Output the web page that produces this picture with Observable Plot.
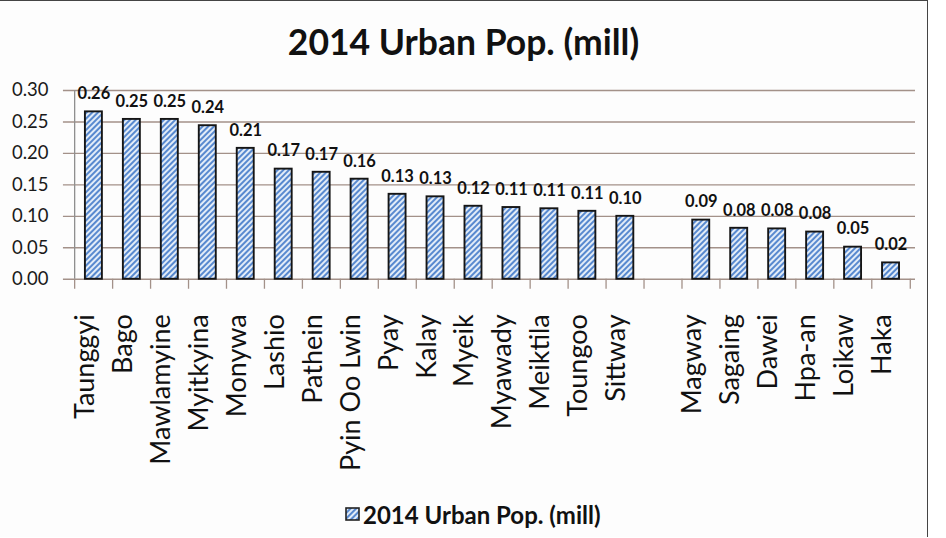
<!DOCTYPE html>
<html><head><meta charset="utf-8">
<script src="https://cdn.jsdelivr.net/npm/d3@7"></script>
<script src="https://cdn.jsdelivr.net/npm/@observablehq/plot@0.6"></script>
<style>
body{margin:0;background:#fff;}
#frame{position:relative;width:927px;height:536px;border-top:1.5px solid #444;border-right:1.5px solid #444;background:#fdfdfd;font-family:Lato,sans-serif;color:#111;overflow:hidden;}
#title{position:absolute;left:0;top:21px;width:927px;height:40px;line-height:40px;text-align:center;font-size:35.5px;font-weight:bold;}
#chart{position:absolute;left:0;top:61px;}
#legend{position:absolute;left:345px;top:500px;height:26px;display:flex;align-items:center;font-size:24px;font-weight:bold;white-space:nowrap;}
#legend svg{margin-right:3px;}
</style></head><body>
<div id="frame"><div id="title"></div><div id="chart"></div><div id="legend"></div></div>
<script>
// ---- data ----
const cities = ["Taunggyi","Bago","Mawlamyine","Myitkyina","Monywa","Lashio","Pathein","Pyin Oo Lwin","Pyay","Kalay","Myeik","Myawady","Meiktila","Toungoo","Sittway","","Magway","Sagaing","Dawei","Hpa-an","Loikaw","Haka"];
const values = [0.266,0.254,0.254,0.244,0.208,0.175,0.170,0.159,0.135,0.131,0.116,0.114,0.112,0.108,0.100,null,0.094,0.081,0.080,0.075,0.051,0.026];
const valueLabels = ["0.26","0.25","0.25","0.24","0.21","0.17","0.17","0.16","0.13","0.13","0.12","0.11","0.11","0.11","0.10","","0.09","0.08","0.08","0.08","0.05","0.02"];
const yTicks = [0,0.05,0.10,0.15,0.20,0.25,0.30];
const titleText = "2014 Urban Pop. (mill)";
const seriesName = "2014 Urban Pop. (mill)";

// ---- layout ----
const W = 928, ML = 68, MR = 12;
const step = (W - ML - MR) / cities.length;
const gridColor = "#a39189";

const rows = cities.map((c, i) => ({city: c, value: values[i], label: valueLabels[i]}));
const bars = rows.filter(d => d.value != null);
const named = rows.filter(d => d.city !== "");

const plot = Plot.plot({
  width: W, height: 430,
  marginTop: 28, marginBottom: 213, marginLeft: ML, marginRight: MR,
  style: {background: "transparent", fontFamily: "Lato, sans-serif", color: "#111", overflow: "visible"},
  x: {domain: cities, paddingInner: 0.56, paddingOuter: 0.28, axis: null},
  y: {domain: [0, 0.30], axis: null},
  marks: [
    Plot.ruleY(yTicks, {stroke: gridColor, strokeWidth: 1.4, insetLeft: -5}),
    Plot.ruleX([cities[0]], {dx: -step / 2, stroke: "#8f8f8f", strokeWidth: 1.3}),
    Plot.ruleX(cities, {x: d => d, dx: -step / 2, y1: 0, y2: 0, insetBottom: -10, stroke: gridColor, strokeWidth: 1.3}),
    Plot.ruleX([cities[cities.length - 1]], {dx: step / 2, y1: 0, y2: 0, insetBottom: -10, stroke: gridColor, strokeWidth: 1.3}),
    Plot.axisY({ticks: yTicks, tickFormat: d3.format(".2f"), tickSize: 0, tickPadding: 20, fontSize: 18.5, fill: "#1a1a1a", label: null}),
    Plot.barY(bars, {x: "city", y: "value", fill: "url(#hatch)", stroke: "#151515", strokeWidth: 1.9}),
    Plot.text(bars, {x: "city", y: "value", text: "label", dy: -18, fontSize: 16.5, fontWeight: "bold", fill: "#111"}),
    Plot.text(named, {x: "city", text: "city", frameAnchor: "bottom", dy: 35, rotate: -90, textAnchor: "end", fontSize: 27, fill: "#111"})
  ]
});

const patternDef = `<pattern id="hatch" patternUnits="userSpaceOnUse" width="4" height="4" patternTransform="rotate(45)"><rect width="4" height="4" fill="#e2ecf8"/><rect width="2" height="4" fill="#5889cf"/></pattern>`;
d3.select(plot).insert("defs", ":first-child").html(patternDef);
document.getElementById("chart").appendChild(plot);

document.getElementById("title").textContent = titleText;
const lg = document.getElementById("legend");
lg.innerHTML = `<svg width="15" height="14"><defs>${patternDef.replace('id="hatch"','id="hatch2"')}</defs><rect x="1" y="1" width="13" height="12" fill="url(#hatch2)" stroke="#222" stroke-width="1.6"/></svg>`;
const span = document.createElement("span");
span.textContent = seriesName;
lg.appendChild(span);
</script>
</body></html>
